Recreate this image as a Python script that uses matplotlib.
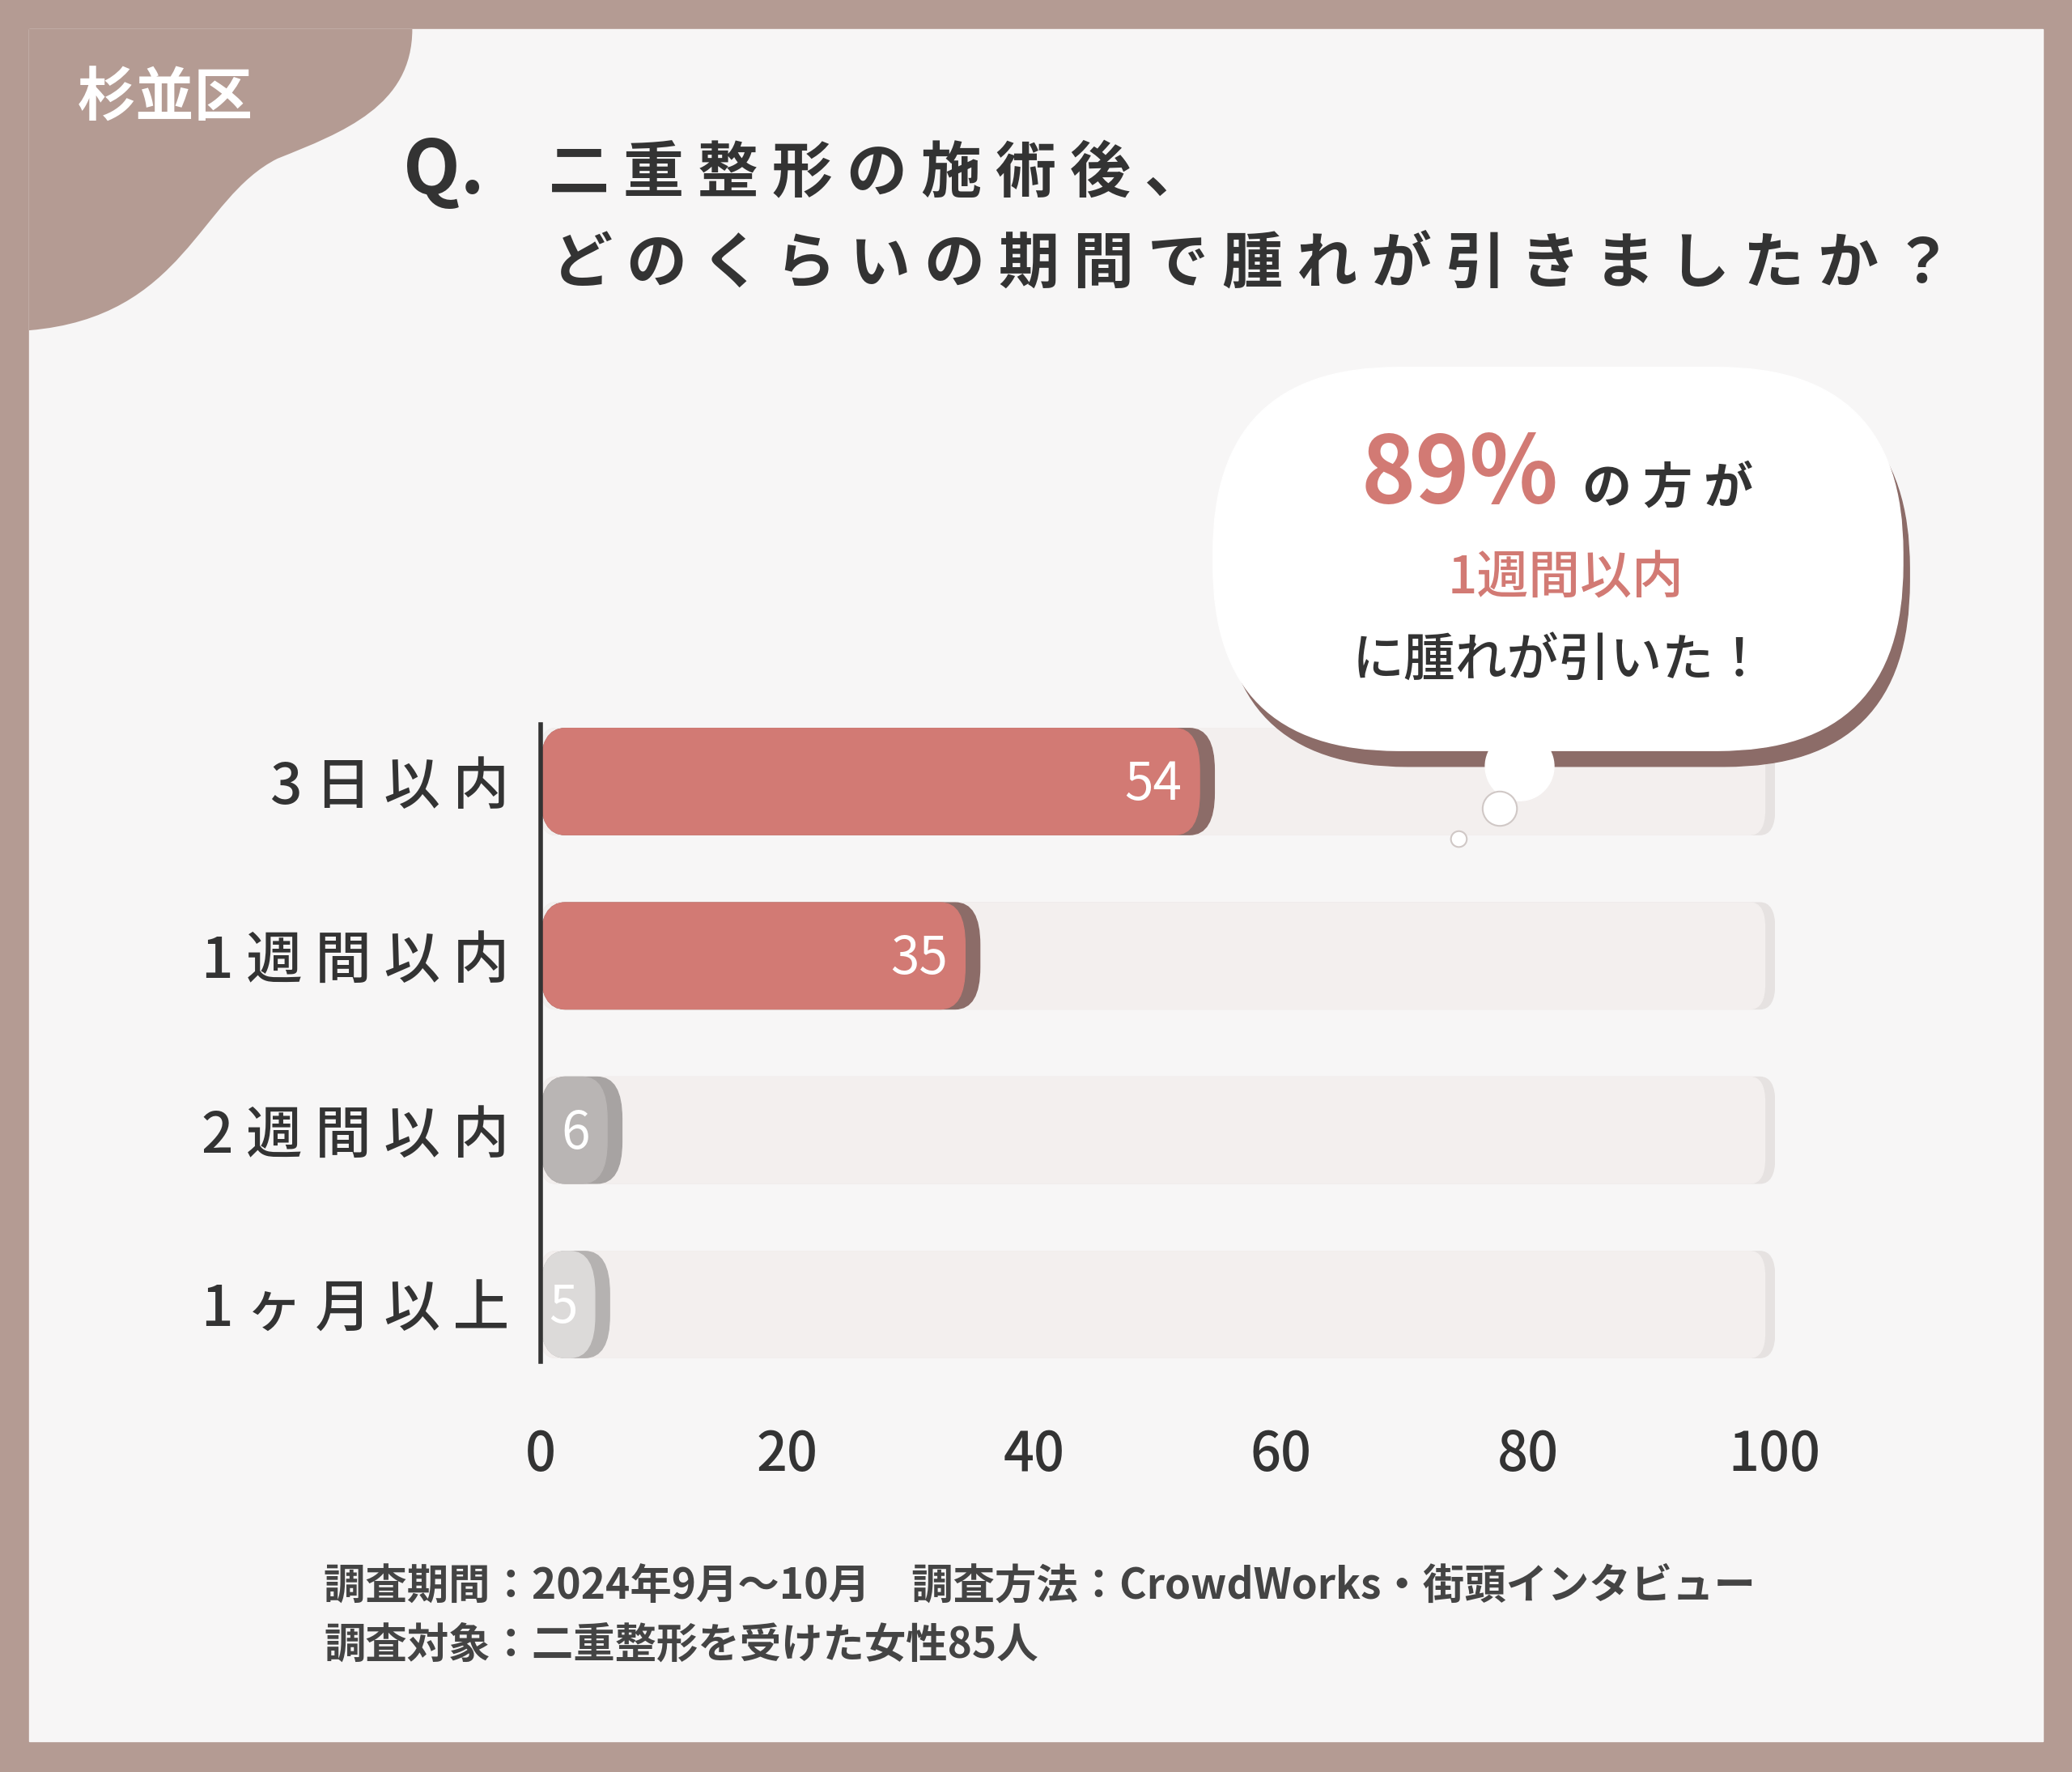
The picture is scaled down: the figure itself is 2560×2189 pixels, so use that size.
import matplotlib
matplotlib.use("Agg")
import matplotlib.pyplot as plt
from matplotlib.patches import Rectangle, FancyBboxPatch, PathPatch, Circle
from matplotlib.path import Path

categories = ["3日以内", "1週間以内", "2週間以内", "1ヶ月以上"]
values = [54, 35, 6, 5]
bar_colors = ["#d27a74", "#d27a74", "#b9b5b4", "#dcdad9"]
shadow_colors = ["#8c6c68", "#8c6c68", "#a7a3a2", "#b5b2b1"]
ticks = [0, 20, 40, 60, 80, 100]
FONT = "Noto Sans CJK JP"
plt.rcParams["font.family"] = FONT

W, H = 1568, 1341  # design coords
fig = plt.figure(figsize=(25.6, 21.89), dpi=100)
fig.patch.set_facecolor("#b49b93")
def fx(x): return x / W
def fy(y): return 1 - y / H

bg = fig.add_axes([0, 0, 1, 1]); bg.set_xlim(0, W); bg.set_ylim(H, 0); bg.axis("off")
bg.add_patch(Rectangle((22, 22), 1524, 1296, color="#f7f6f6"))
verts = [(22, 22), (312, 22), (312, 80), (260, 100), (210, 120), (150, 150), (140, 240), (22, 250), (22, 22)]
codes = [Path.MOVETO, Path.LINETO, Path.CURVE4, Path.CURVE4, Path.CURVE4, Path.CURVE4, Path.CURVE4, Path.CURVE4, Path.CLOSEPOLY]
bg.add_patch(PathPatch(Path(verts, codes), color="#b49b93", lw=0))
bg.text(125, 75, "杉並区", color="white", fontsize=52, fontweight="bold", ha="center", va="center")
bg.text(305, 130, "Q.", color="#333333", fontsize=66, fontweight="bold", ha="left", va="center")
bg.text(415, 132, "二 重 整 形 の 施 術 後 、", color="#333333", fontsize=54, fontweight="bold", ha="left", va="center")
bg.text(418, 200, "ど の く ら い の 期 間 で 腫 れ が 引 き ま し た か ？", color="#333333", fontsize=54, fontweight="bold", ha="left", va="center")

bg.text(245, 1200, "調査期間：2024年9月〜10月　調査方法：CrowdWorks・街頭インタビュー", color="#444444", fontsize=37, fontweight="bold", ha="left", va="center")
bg.text(245, 1245, "調査対象：二重整形を受けた女性85人", color="#444444", fontsize=37, fontweight="bold", ha="left", va="center")

ax = fig.add_axes([fx(409), fy(1040), fx(1343) - fx(409), (1040 - 540) / H])
ax.patch.set_alpha(0)
ax.set_xlim(0, 100)
ax.set_ylim(3.4, -0.39)
for s in ax.spines.values(): s.set_visible(False)
n = len(categories)
h = 0.61
for i, (v, c, sc) in enumerate(zip(values, bar_colors, shadow_colors)):
    ax.add_patch(FancyBboxPatch((0, i - h / 2), 100, h, boxstyle="round,pad=0,rounding_size=1.2", mutation_aspect=0.12, color="#e6e2e1", zorder=1))
    ax.add_patch(FancyBboxPatch((0, i - h / 2), 99.2, h, boxstyle="round,pad=0,rounding_size=1.2", mutation_aspect=0.12, color="#f3efee", zorder=1.1))
    ax.add_patch(FancyBboxPatch((0, i - h / 2), v + 0.6, h, boxstyle="round,pad=0,rounding_size=2", mutation_aspect=0.12, color=sc, zorder=2))
    ax.add_patch(FancyBboxPatch((0, i - h / 2), v - 0.6, h, boxstyle="round,pad=0,rounding_size=2", mutation_aspect=0.12, color=c, zorder=3))
    ax.text(v - 2.0, i + 0.02, str(v), color="white", fontsize=46, ha="right", va="center", zorder=4)
ax.plot([0, 0], [-h / 2 - 0.02, n - 1 + h / 2 + 0.02], color="#333333", lw=4, zorder=5, clip_on=False)
ax.set_yticks(range(n))
ax.set_yticklabels([" ".join(c) for c in categories], fontsize=50, color="#333333", fontweight="medium")
ax.set_xticks(ticks)
ax.set_xticklabels([str(t) for t in ticks], fontsize=48, color="#333333", fontweight="medium")
ax.tick_params(length=0, pad=48, axis="x")
ax.tick_params(length=0, pad=28, axis="y")

# speech bubble overlay
ov = fig.add_axes([0, 0, 1, 1]); ov.set_xlim(0, W); ov.set_ylim(H, 0); ov.axis("off"); ov.patch.set_alpha(0)
ov.add_patch(FancyBboxPatch((925, 290), 520, 290, boxstyle="round,pad=0,rounding_size=140", color="#8c6c68", zorder=2))
ov.add_patch(FancyBboxPatch((918, 278), 522, 290, boxstyle="round,pad=0,rounding_size=140", color="white", zorder=3))
ov.add_patch(Circle((1150, 580), 26, color="white", zorder=3.5))
ov.add_patch(Circle((1135, 612), 13, color="white", ec="#d0c8c6", lw=1.5, zorder=6))
ov.add_patch(Circle((1104, 635), 6, color="white", ec="#d0c8c6", lw=1.5, zorder=6))
ov.text(1105, 360, "89%", color="#d27a74", fontsize=82, fontweight="bold", ha="center", va="center", zorder=4)
ov.text(1262, 370, "の 方 が", color="#333333", fontsize=44, fontweight="bold", ha="center", va="center", zorder=4)
ov.text(1185, 438, "1週間以内", color="#d27a74", fontsize=46, fontweight="medium", ha="center", va="center", zorder=4)
ov.text(1180, 500, "に腫れが引いた！", color="#333333", fontsize=46, fontweight="medium", ha="center", va="center", zorder=4)

fig.savefig("out.png", dpi=100, facecolor=fig.get_facecolor())
